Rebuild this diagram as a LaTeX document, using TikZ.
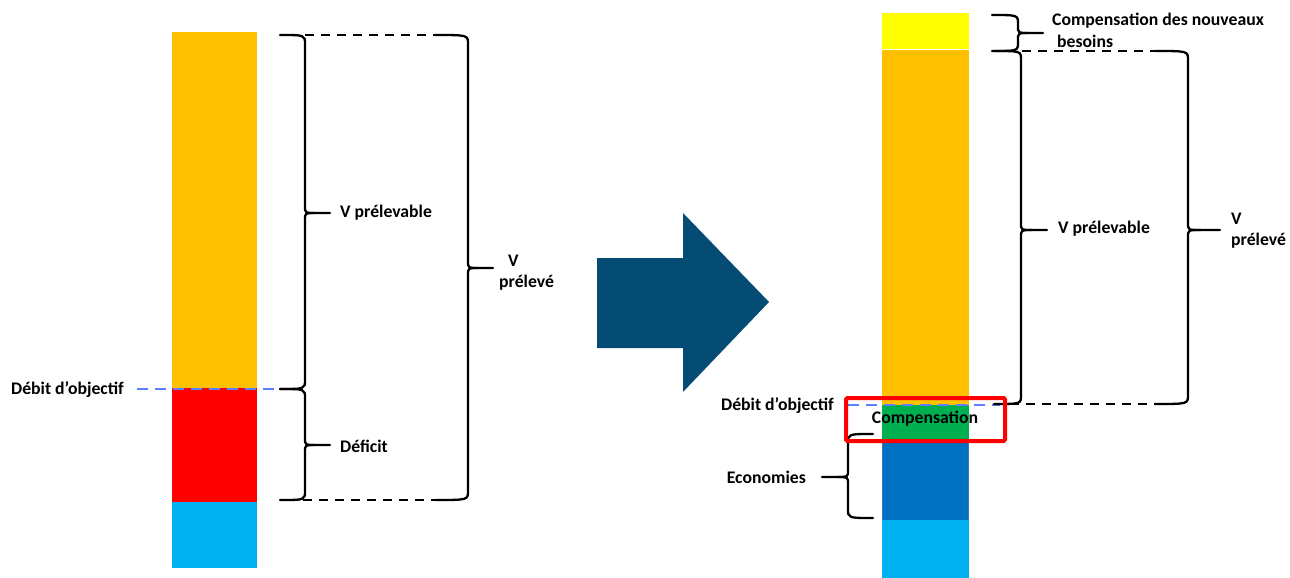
\documentclass[tikz,border=0pt]{standalone}
\usepackage{fontspec}
\setmainfont{Carlito}
\usepackage{tikz}
\usepackage{xcolor}

\definecolor{orangeV}{HTML}{FFC000}
\definecolor{rougeD}{HTML}{FF0000}
\definecolor{cyanB}{HTML}{00B0F0}
\definecolor{jauneC}{HTML}{FFFF00}
\definecolor{vertC}{HTML}{00B050}
\definecolor{bleuE}{HTML}{0070C0}
\definecolor{bordE}{HTML}{4472C4}
\definecolor{fleche}{HTML}{044C73}
\definecolor{debit}{HTML}{5B7FFF}

\tikzset{
  lbl/.style={font=\bfseries\fontsize{17.7}{21}\selectfont,inner sep=0pt},
  accol/.style={line width=2.3pt,line cap=round},
  pointille/.style={line width=2.2pt,dash pattern=on 9pt off 7pt},
  objectif/.style={draw=debit,line width=2.4pt,dash pattern=on 11pt off 7pt}
}

% accolade: x bout, x trait, x pointe, y haut, y milieu, y bas
\newcommand{\accolade}[6]{%
  \draw[accol] (#1,#4) .. controls (#2,#4) .. (#2,#4+9) -- (#2,#5-7)
    .. controls (#2,#5) .. (#2+0.4*#3-0.4*#2,#5) -- (#3,#5);
  \draw[accol] (#1,#6) .. controls (#2,#6) .. (#2,#6-9) -- (#2,#5+7)
    .. controls (#2,#5) .. (#2+0.4*#3-0.4*#2,#5);
}

\begin{document}
\begin{tikzpicture}[x=1pt,y=-1pt]
\useasboundingbox (0,0) rectangle (1290,578);

% colonne avant
\fill[orangeV] (172,32) rectangle (257,388);
\fill[rougeD] (172,388) rectangle (257,502);
\fill[cyanB] (172,502) rectangle (257,568);

\draw[objectif] (137,389) -- (292,389);
\draw[pointille] (305,35) -- (435,35);
\draw[pointille] (287,500) -- (435,500);
\accolade{280}{305}{330}{35}{213}{389}
\accolade{280}{305}{330}{389}{445}{500}
\accolade{435}{468}{493}{35}{268}{500}

\node[lbl,anchor=east] (debit1) at (124,390) {Débit d’objectif};
\node[lbl,anchor=west] (vprel1) at (340,213) {V prélevable};
\node[lbl,anchor=west] (deficit) at (340,446) {Déficit};
\node[lbl,anchor=west,align=left] (vpreleve1) at (499,273) {\hspace{9pt}V\\prélevé};

% grosse flèche
\fill[fleche] (597,258) -- (683,258) -- (683,213) -- (769,302) -- (683,392)
  -- (683,348) -- (597,348) -- cycle;

% colonne après
\fill[jauneC] (882,13) rectangle (969,49);
\fill[orangeV] (882,50) rectangle (969,405);
\fill[vertC] (882,405) rectangle (969,440);
\filldraw[fill=bleuE,draw=bordE,line width=0.8pt] (882.4,440) rectangle (968.6,520);
\fill[cyanB] (882,520.4) rectangle (969,578);

\draw[objectif] (848,405) -- (1000,405);
\draw[pointille] (1022,51) -- (1155,51);
\draw[pointille] (1010,404) -- (1155,404);
\accolade{992}{1018}{1043}{15}{33}{51}
\accolade{994}{1021}{1047}{51}{230}{404}
\accolade{1155}{1188}{1220}{51}{230}{404}
\accolade{873}{848}{822}{434}{477}{518}

\draw[red,line width=4pt,rounded corners=1.5pt] (846,398) rectangle (1005,441);

\node[lbl,anchor=west] (besoins) at (1052,21) {Compensation des nouveaux};
\node[lbl,anchor=west] (besoins2) at (1057,41) {besoins};
\node[lbl,anchor=west] (vprel2) at (1058,229) {V prélevable};
\node[lbl,anchor=west,align=left] (vpreleve2) at (1231,231) {V\\prélevé};
\node[lbl,anchor=east] (debit2) at (834,406) {Débit d’objectif};
\node[lbl] (compens) at (925,419) {Compensation};
\node[lbl,anchor=east] (econ) at (806,477) {Economies};
\end{tikzpicture}
\end{document}
